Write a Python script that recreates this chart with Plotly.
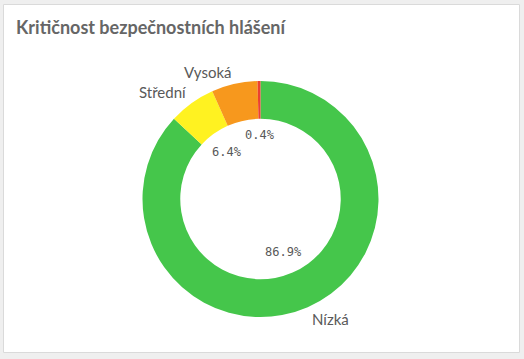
import math
import plotly.graph_objects as go

# ---- data ----
categories = ["Nízká", "Střední", "Vysoká", "Kritická"]
values = [86.9, 6.4, 6.3, 0.4]
outer_labels = ["Nízká", "Střední", "Vysoká", ""]
pct_labels = ["86.9%", "6.4%", "", "0.4%"]
colors = ["#45c64b", "#fff221", "#f7981d", "#ec4130"]
title_text = "Kritičnost bezpečnostních hlášení"

W, H = 524, 359
cx_px, cy_px, R = 260.5, 199, 118
dom_x = [(cx_px - R) / W, (cx_px + R) / W]
dom_y = [(H - cy_px - R) / H, (H - cy_px + R) / H]

fig = go.Figure()
fig.add_trace(go.Pie(
    labels=categories,
    values=values,
    textinfo="none",
    hole=0.68,
    sort=False,
    direction="clockwise",
    rotation=0,
    marker=dict(colors=colors, line=dict(width=0)),
    domain=dict(x=dom_x, y=dom_y),
    showlegend=False,
    automargin=False,
))

total = sum(values)
cum = 0.0
r_lim = 72      # inner labels: far corner of text box on this circle
r_out = 123     # outer labels: near corner of text box on this circle
char_w, txt_h = 7.2, 12
out_h = 14
annotations = []
for v, t, lab in zip(values, pct_labels, outer_labels):
    mid = cum + v / 2
    cum += v
    ang = math.radians(90 - 360 * mid / total)
    dx, dy = math.cos(ang), math.sin(ang)
    if t:
        ox = math.copysign(len(t) * char_w / 2, dx)
        oy = math.copysign(txt_h / 2, dy)
        b = dx * ox + dy * oy
        c = ox * ox + oy * oy - r_lim * r_lim
        s = -b + math.sqrt(b * b - c)
        annotations.append(dict(x=(cx_px + s * dx) / W, y=(H - cy_px + s * dy) / H,
                                xref="paper", yref="paper", text=t, showarrow=False,
                                xanchor="center", yanchor="middle",
                                font=dict(family="DejaVu Sans Mono", size=12, color="#595959")))
    if lab:
        px = cx_px + r_out * dx
        py = H - cy_px + r_out * dy + math.copysign(out_h / 2, dy)
        annotations.append(dict(x=px / W, y=py / H, xref="paper", yref="paper", text=lab,
                                showarrow=False, xanchor="left" if dx > 0 else "right",
                                yanchor="middle",
                                font=dict(family="Lato", size=15, color="#595959")))

annotations.append(dict(x=14 / W, y=1 - 14 / H, xref="paper", yref="paper", text="<b>" + title_text + "</b>",
                        showarrow=False, xanchor="left", yanchor="top",
                        font=dict(family="Lato", size=18, color="#666666")))

fig.update_layout(
    width=W, height=H,
    margin=dict(l=0, r=0, t=0, b=0),
    paper_bgcolor="#efefef",
    plot_bgcolor="#efefef",
    annotations=annotations,
    shapes=[dict(type="rect", xref="paper", yref="paper",
                 x0=3.5 / W, x1=519.5 / W, y0=1 - 352.5 / H, y1=1 - 4.5 / H,
                 fillcolor="white", line=dict(color="#dadada", width=1), layer="below")],
)

fig.write_html("out.html", config={"displayModeBar": False},
               post_script="document.body.style.margin='0';")
